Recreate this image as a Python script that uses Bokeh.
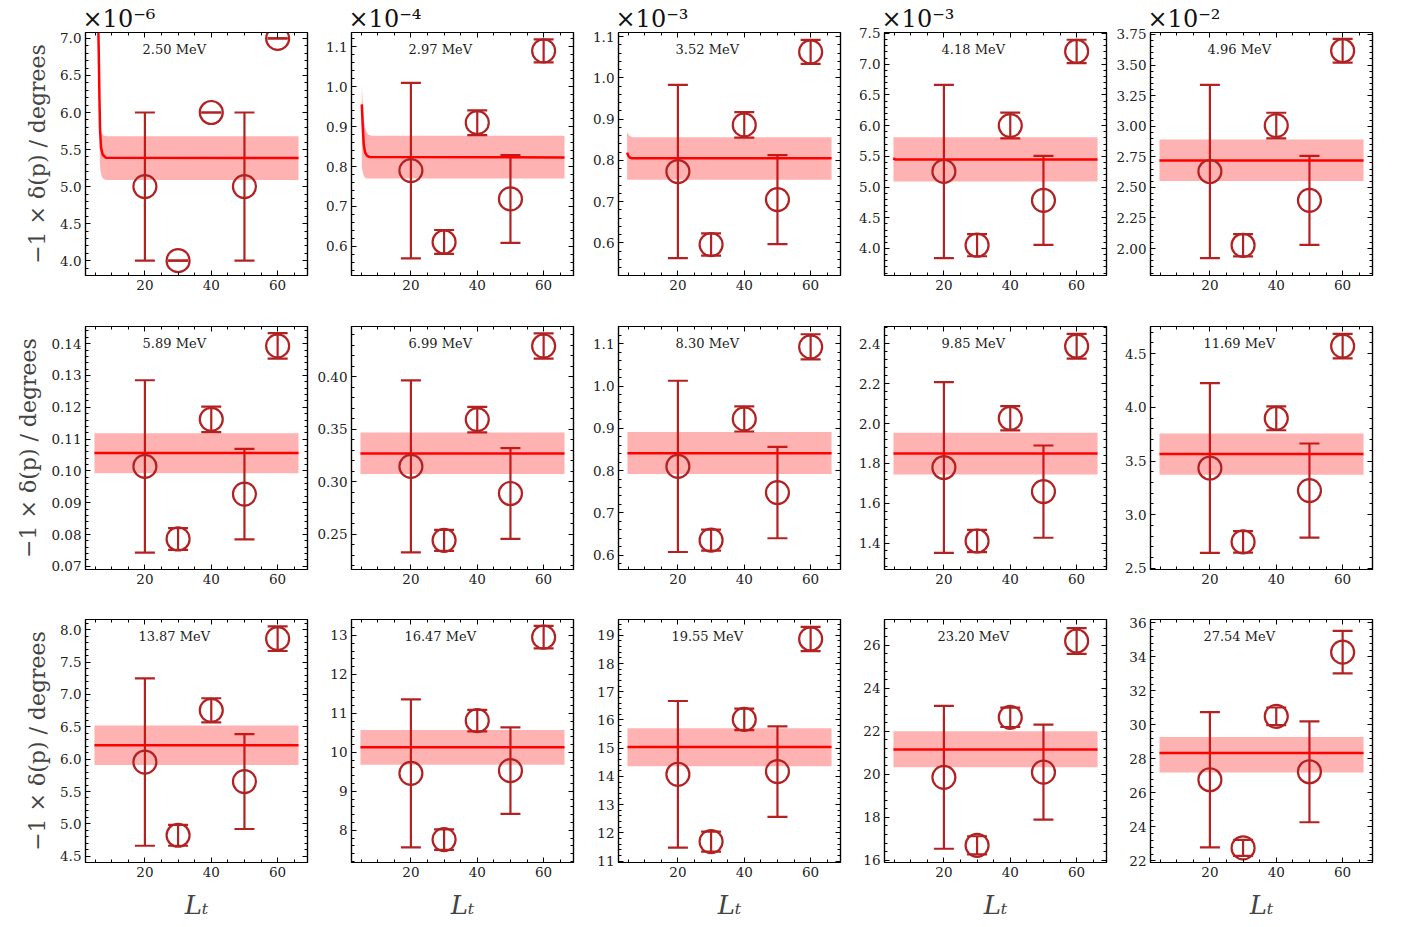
import numpy as np
from bokeh.plotting import figure
from bokeh.layouts import gridplot
from bokeh.models import (ColumnDataSource, Whisker, TeeHead, Label, LinearAxis,
                          FixedTicker, PrintfTickFormatter, Range1d)
from bokeh.embed import file_html
from bokeh.resources import INLINE

# ---------------- data ----------------
energies = ["2.50 MeV", "2.97 MeV", "3.52 MeV", "4.18 MeV", "4.96 MeV",
            "5.89 MeV", "6.99 MeV", "8.30 MeV", "9.85 MeV", "11.69 MeV",
            "13.87 MeV", "16.47 MeV", "19.55 MeV", "23.20 MeV", "27.54 MeV"]
scale_labels = ["×10⁻⁶", "×10⁻⁴", "×10⁻³", "×10⁻³", "×10⁻²",
                "", "", "", "", "", "", "", "", "", ""]
L_t = [20, 30, 40, 50, 60]

delta = [
    [5.0, 4.0, 6.0, 5.0, 7.0],
    [0.790, 0.611, 0.910, 0.719, 1.090],
    [0.773, 0.596, 0.886, 0.705, 1.063],
    [5.254, 4.053, 6.001, 4.784, 7.208],
    [2.630, 2.027, 3.005, 2.394, 3.617],
    [0.1014, 0.0786, 0.1162, 0.0927, 0.1393],
    [0.3147, 0.2443, 0.3593, 0.2889, 0.4294],
    [0.810, 0.6355, 0.9223, 0.748, 1.0929],
    [1.779, 1.410, 2.026, 1.658, 2.388],
    [3.435, 2.747, 3.898, 3.225, 4.571],
    [5.956, 4.824, 6.755, 5.654, 7.862],
    [9.463, 7.762, 10.815, 9.531, 12.957],
    [14.076, 11.69, 16.02, 14.17, 18.87],
    [19.86, 16.70, 22.65, 20.10, 26.20],
    [26.77, 22.76, 30.50, 27.24, 34.28],
]
delta_err = [
    [1.0, 0.0, 0.0, 1.0, 0.0],
    [0.220, 0.030, 0.031, 0.110, 0.029],
    [0.210, 0.027, 0.031, 0.108, 0.029],
    [1.41, 0.18, 0.21, 0.725, 0.19],
    [0.708, 0.091, 0.105, 0.364, 0.097],
    [0.0271, 0.0034, 0.0040, 0.0142, 0.0040],
    [0.0819, 0.0100, 0.0121, 0.0433, 0.0120],
    [0.2026, 0.0247, 0.0298, 0.108, 0.0298],
    [0.429, 0.056, 0.061, 0.2315, 0.062],
    [0.790, 0.100, 0.111, 0.4385, 0.114],
    [1.294, 0.162, 0.187, 0.733, 0.19],
    [1.90, 0.263, 0.277, 1.109, 0.289],
    [2.597, 0.353, 0.38, 1.60, 0.43],
    [3.32, 0.42, 0.45, 2.21, 0.60],
    [3.98, 0.47, 0.52, 2.97, 1.25],
]

# fitted curve
fit_x = [
    [5.7, 5.9, 6.1, 6.3, 6.5, 6.8, 7.3, 8.2, 66.3],
    [5.2, 5.5, 5.8, 6.2, 6.8, 7.6, 66.3],
    [4.7, 5.0, 5.5, 6.2, 66.3],
    [4.7, 5.3, 66.3],
    [4.8, 66.3], [4.8, 66.3], [4.8, 66.3], [4.8, 66.3], [4.8, 66.3],
    [4.8, 66.3], [4.8, 66.3], [4.8, 66.3], [4.8, 66.3], [4.8, 66.3], [4.8, 66.3],
]
fit_y = [
    [9.0, 7.3, 6.8, 6.2, 5.75, 5.52, 5.43, 5.39, 5.386],
    [0.956, 0.90, 0.855, 0.835, 0.827, 0.824, 0.823],
    [0.819, 0.812, 0.807, 0.805, 0.805],
    [5.465, 5.450, 5.449],
    [2.720, 2.720], [0.1056, 0.1056], [0.3271, 0.3271], [0.8413, 0.8413],
    [1.849, 1.849], [3.565, 3.565], [6.217, 6.217], [10.135, 10.135],
    [15.04, 15.04], [21.16, 21.16], [28.35, 28.35],
]
band_x = [
    [6.4, 6.6, 7.0, 7.6, 8.5, 66.3],
    [5.2, 5.5, 5.9, 6.4, 7.2, 8.2, 66.3],
    [4.7, 5.0, 5.5, 6.2, 66.3],
    [4.8, 66.3], [4.8, 66.3], [4.8, 66.3], [4.8, 66.3], [4.8, 66.3],
    [4.8, 66.3], [4.8, 66.3], [4.8, 66.3], [4.8, 66.3], [4.8, 66.3],
    [4.8, 66.3], [4.8, 66.3],
]
band_lo = [
    [5.35, 5.22, 5.13, 5.10, 5.09, 5.09],
    [0.80, 0.785, 0.775, 0.771, 0.770, 0.770, 0.770],
    [0.753, 0.753, 0.753, 0.753, 0.753],
    [5.092, 5.092], [2.552, 2.552], [0.0993, 0.0993], [0.3075, 0.3075],
    [0.7919, 0.7919], [1.744, 1.744], [3.373, 3.373], [5.91, 5.91],
    [9.684, 9.684], [14.36, 14.36], [20.33, 20.33], [27.19, 27.19],
]
band_hi = [
    [6.0, 5.80, 5.72, 5.69, 5.68, 5.68],
    [1.004, 0.96, 0.91, 0.89, 0.88, 0.877, 0.877],
    [0.868, 0.864, 0.859, 0.856, 0.856],
    [5.812, 5.812], [2.891, 2.891], [0.1118, 0.1118], [0.3470, 0.3470],
    [0.8914, 0.8914], [1.954, 1.954], [3.756, 3.756], [6.52, 6.52],
    [10.577, 10.577], [15.71, 15.71], [22.0, 22.0], [29.28, 29.28],
]

# tick labels
x_ticks = [20, 40, 60]
y_ticks = [
    [4.0, 4.5, 5.0, 5.5, 6.0, 6.5, 7.0],
    [0.6, 0.7, 0.8, 0.9, 1.0, 1.1],
    [0.6, 0.7, 0.8, 0.9, 1.0, 1.1],
    [4.0, 4.5, 5.0, 5.5, 6.0, 6.5, 7.0, 7.5],
    [2.00, 2.25, 2.50, 2.75, 3.00, 3.25, 3.50, 3.75],
    [0.07, 0.08, 0.09, 0.10, 0.11, 0.12, 0.13, 0.14],
    [0.25, 0.30, 0.35, 0.40],
    [0.6, 0.7, 0.8, 0.9, 1.0, 1.1],
    [1.4, 1.6, 1.8, 2.0, 2.2, 2.4],
    [2.5, 3.0, 3.5, 4.0, 4.5],
    [4.5, 5.0, 5.5, 6.0, 6.5, 7.0, 7.5, 8.0],
    [8, 9, 10, 11, 12, 13],
    [11, 12, 13, 14, 15, 16, 17, 18, 19],
    [16, 18, 20, 22, 24, 26],
    [22, 24, 26, 28, 30, 32, 34, 36],
]
y_fmt = ["%.1f", "%.1f", "%.1f", "%.1f", "%.2f",
         "%.2f", "%.2f", "%.1f", "%.1f", "%.1f",
         "%.1f", "%d", "%d", "%d", "%d"]

# axis limits (layout)
x_lim = (2.1, 69.0)
y_lims = [
    (3.80, 7.08), (0.527, 1.136), (0.521, 1.11), (3.56, 7.516), (1.78, 3.766),
    (0.069, 0.1454), (0.2165, 0.448), (0.566, 1.141), (1.267, 2.487), (2.49, 4.753),
    (4.403, 8.159), (7.175, 13.41), (10.95, 19.56), (15.9, 27.2), (21.9, 36.2),
]

# ---------------- styling / layout ----------------
DARK = "#b22222"
SERIF = "DejaVu Serif"
FRAME_W, FRAME_H = 222, 243
LEFT = [85, 38, 39, 38, 38]
RIGHT = [6, 6, 6, 6, 6]
TOP = [32, 21, 20]
BOTTOM = [30, 30, 55]


def style_axis(ax, show_labels=True):
    ax.major_tick_in = 5
    ax.major_tick_out = 0
    ax.minor_tick_in = 3
    ax.minor_tick_out = 0
    ax.axis_line_color = "black"
    ax.axis_line_width = 1.2
    ax.major_tick_line_width = 1.0
    ax.minor_tick_line_width = 1.0
    if show_labels:
        ax.major_label_text_font = SERIF
        ax.major_label_text_font_size = "13.5px"
        ax.major_label_text_color = "#222222"
        ax.major_label_standoff = 4
    else:
        ax.major_label_text_color = None
        ax.major_label_text_font_size = "1px"
        ax.major_label_standoff = 0


def make_panel(i):
    r, c = divmod(i, 5)
    y0, y1 = y_lims[i]
    p = figure(frame_width=FRAME_W, frame_height=FRAME_H,
               x_range=Range1d(*x_lim), y_range=Range1d(y0, y1),
               min_border_left=LEFT[c], min_border_right=RIGHT[c],
               min_border_top=TOP[r], min_border_bottom=BOTTOM[r],
               output_backend="svg", toolbar_location=None,
               background_fill_color="white", border_fill_color="white")
    p.grid.visible = False
    p.outline_line_color = "black"
    p.outline_line_width = 1.2

    if scale_labels[i]:
        p.title.text = scale_labels[i]
        p.title.align = "left"
        p.title.text_font = SERIF
        p.title.text_font_size = "24px"
        p.title.text_font_style = "normal"
        p.title.text_color = "#111111"
        p.title.standoff = 0
        p.title.offset = -3

    yt = y_ticks[i]
    step = (yt[1] - yt[0]) / 5.0
    yminor = list(np.arange(yt[0] - 10 * step, yt[-1] + 10 * step, step))
    ytick = FixedTicker(ticks=yt, minor_ticks=yminor)
    xtick = FixedTicker(ticks=x_ticks, minor_ticks=list(range(0, 75, 5)))

    bottom_ax = p.xaxis[0]
    left_ax = p.yaxis[0]
    bottom_ax.ticker = xtick
    left_ax.ticker = ytick
    left_ax.formatter = PrintfTickFormatter(format=y_fmt[i])
    style_axis(bottom_ax)
    style_axis(left_ax)

    top_ax = LinearAxis(ticker=xtick)
    right_ax = LinearAxis(ticker=ytick)
    style_axis(top_ax, show_labels=False)
    style_axis(right_ax, show_labels=False)
    p.add_layout(top_ax, "above")
    p.add_layout(right_ax, "right")

    if c == 0:
        left_ax.axis_label = "−1 × δ(p) / degrees"
        left_ax.axis_label_text_font = SERIF
        left_ax.axis_label_text_font_size = "22px"
        left_ax.axis_label_text_font_style = "normal"
        left_ax.axis_label_standoff = 7
    if r == 2:
        bottom_ax.axis_label = "Lₜ"
        bottom_ax.axis_label_text_font = SERIF
        bottom_ax.axis_label_text_font_size = "26px"
        bottom_ax.axis_label_text_font_style = "italic"
        bottom_ax.axis_label_standoff = 10

    # fit band and line
    p.varea(x=band_x[i], y1=band_lo[i], y2=band_hi[i],
            fill_color="red", fill_alpha=0.3)
    p.line(fit_x[i], fit_y[i], line_color="red", line_width=2.5)

    # data with error bars
    v = np.array(delta[i]); e = np.array(delta_err[i])
    src = ColumnDataSource(dict(x=L_t, y=delta[i], upper=list(v + e), lower=list(v - e)))
    w = Whisker(source=src, base="x", upper="upper", lower="lower",
                line_color=DARK, line_width=2.2,
                upper_head=TeeHead(size=20, line_color=DARK, line_width=2.2),
                lower_head=TeeHead(size=20, line_color=DARK, line_width=2.2))
    p.add_layout(w)
    p.scatter("x", "y", source=src, marker="circle", size=23,
              fill_color=None, line_color=DARK, line_width=2.2)

    # energy label
    p.add_layout(Label(x=x_lim[0] + 0.4 * (x_lim[1] - x_lim[0]), y=y1,
                       y_offset=-9, text=energies[i], text_align="center",
                       text_baseline="top", text_font=SERIF,
                       text_font_size="13px", text_color="#222222"))
    return p


panels = [make_panel(i) for i in range(15)]
grid = gridplot([panels[0:5], panels[5:10], panels[10:15]], toolbar_location=None)

open("out.html", "w").write(file_html(grid, INLINE))
